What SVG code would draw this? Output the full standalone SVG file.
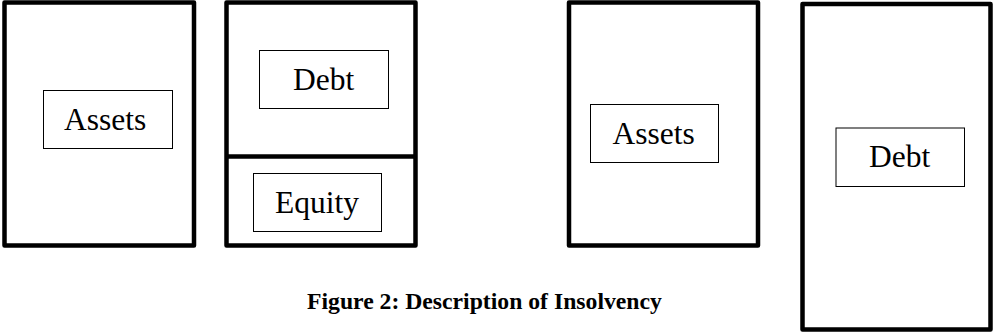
<svg xmlns="http://www.w3.org/2000/svg" width="994" height="333" viewBox="0 0 994 333">
<style>
.outer{fill:none;stroke:#000;stroke-width:4.5;stroke-linejoin:round}
.inner{fill:#fff;stroke:#000;stroke-width:1}
.lbl{font-family:"Liberation Serif","Times New Roman",serif;font-size:31.5px;fill:#000}
.cap{font-family:"Liberation Serif","Times New Roman",serif;font-size:23.7px;font-weight:bold;fill:#000}
</style>
<rect width="994" height="333" fill="#fff"/>
<g id="balance-sheet-solvent-assets">
<rect class="outer" x="4.5" y="2.5" width="189.5" height="243"/>
<g id="assets-1">
<rect class="inner" x="43.5" y="90.5" width="129" height="58"/>
<text class="lbl" x="64" y="130">Assets</text>
</g>
</g>
<g id="balance-sheet-solvent-liabilities">
<rect class="outer" x="226.5" y="2.5" width="189" height="243"/>
<line class="outer" x1="226.5" y1="156.5" x2="415.5" y2="156.5"/>
<g id="debt-1">
<rect class="inner" x="259.5" y="50.5" width="129" height="58"/>
<text class="lbl" x="293" y="90">Debt</text>
</g>
<g id="equity-1">
<rect class="inner" x="253.5" y="173.5" width="128" height="58"/>
<text class="lbl" x="275" y="213">Equity</text>
</g>
</g>
<g id="balance-sheet-insolvent-assets">
<rect class="outer" x="569" y="2.5" width="189" height="243"/>
<g id="assets-2">
<rect class="inner" x="590.5" y="104.5" width="128" height="58"/>
<text class="lbl" x="612.5" y="144">Assets</text>
</g>
</g>
<g id="balance-sheet-insolvent-debt">
<rect class="outer" x="802.5" y="4" width="188" height="325.5"/>
<g id="debt-2">
<rect class="inner" x="836" y="128" width="128.5" height="58.5"/>
<text class="lbl" x="869" y="167">Debt</text>
</g>
</g>
<g id="connectors"/>
<text class="cap" x="307" y="309">Figure 2: Description of Insolvency</text>
</svg>
